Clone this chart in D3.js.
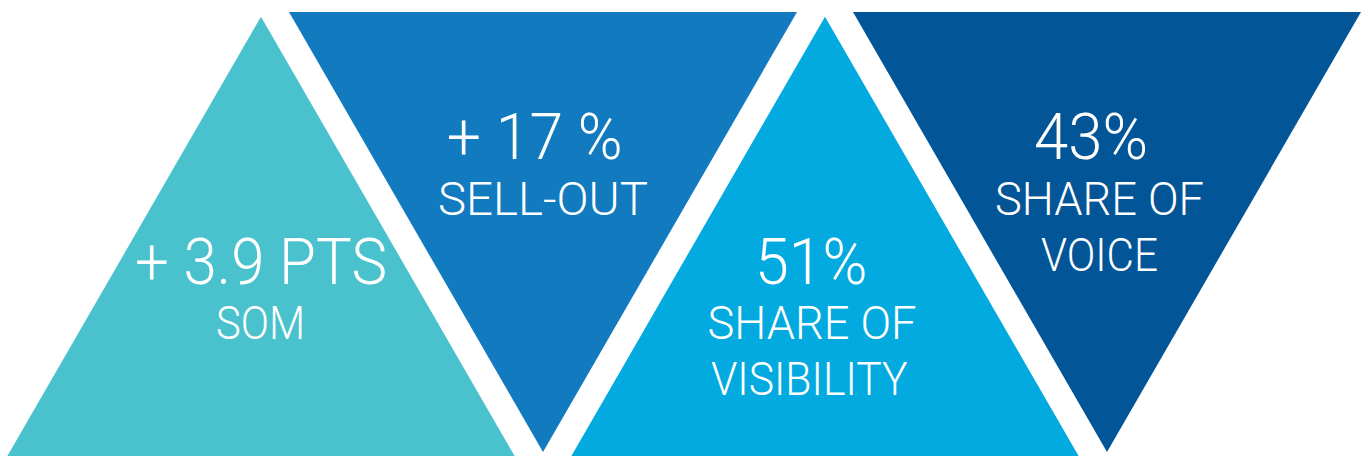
<!DOCTYPE html>
<html>
<head>
<meta charset="utf-8">
<script src="https://cdn.jsdelivr.net/npm/d3@7"></script>
<style>
  html, body { margin: 0; padding: 0; background: #fff; }
  svg { display: block; }
  text { font-family: Roboto, "DejaVu Sans", sans-serif; font-weight: 300; fill: #fff; }
</style>
</head>
<body>
<svg id="chart" width="1363" height="456"></svg>
<script>
// ---- data ----
const categories = ["SOM", "SELL-OUT", "SHARE OF VISIBILITY", "SHARE OF VOICE"];
const values = ["+ 3.9 PTS", "+ 17 %", "51%", "43%"];
const subLabels = [["SOM"], ["SELL-OUT"], ["SHARE OF", "VISIBILITY"], ["SHARE OF", "VOICE"]];
const directions = ["up", "down", "up", "down"];
const colors = ["#4AC2CE", "#127ABF", "#02AAE0", "#025597"];

// ---- layout / style ----
const W = 1363, H = 456;
const side = 508;
const triH = side * Math.sqrt(3) / 2;
const valueDx = [0, -8.3, -13.7, -16];
const subDx = [[-0.5], [0], [-13, -15.7], [-7.5, -7.5]];
const valueWidths = [252, 176, 112.7, 114];
const subWidths = [[89], [210], [209, 196.7], [209, 117]];

const svg = d3.select("#chart");
const x = d3.scalePoint().domain(categories).range([261, 1107]);
const y = d3.scaleLinear().domain([0, 1]).range([0, triH]); // fraction of triangle height

const topUp = 16.7, topDown = 12;

function triPath(cat, dir) {
  const cx = x(cat);
  const p = d3.path();
  if (dir === "up") {
    const y0 = topUp;
    p.moveTo(cx, y0);
    p.lineTo(cx + side / 2, y0 + y(1));
    p.lineTo(cx - side / 2, y0 + y(1));
  } else {
    const y0 = topDown;
    p.moveTo(cx - side / 2, y0);
    p.lineTo(cx + side / 2, y0);
    p.lineTo(cx, y0 + y(1));
  }
  p.closePath();
  return p.toString();
}

const g = svg.selectAll("g.tri")
  .data(categories.map((c, i) => ({ c, i })))
  .join("g").attr("class", "tri");

g.append("path")
  .attr("d", d => triPath(d.c, directions[d.i]))
  .attr("fill", d => colors[d.i]);

const valueBaseline = { up: 284, down: 159 };
const subBaseline = { up: 338.5, down: 214.5 };
const lineGap = 56.5;
const bigSize = 65.5, smallSize = 47;

g.append("text")
  .attr("x", d => x(d.c) + valueDx[d.i])
  .attr("y", d => valueBaseline[directions[d.i]])
  .attr("text-anchor", "middle")
  .attr("textLength", d => valueWidths[d.i])
  .attr("lengthAdjust", "spacingAndGlyphs")
  .style("font-size", bigSize + "px")
  .text(d => values[d.i]);

g.each(function(d) {
  d3.select(this).selectAll("text.sub")
    .data(subLabels[d.i])
    .join("text").attr("class", "sub")
    .attr("x", (s, k) => x(d.c) + subDx[d.i][k])
    .attr("y", (s, k) => subBaseline[directions[d.i]] + k * lineGap)
    .attr("text-anchor", "middle")
    .attr("textLength", (s, k) => subWidths[d.i][k])
    .attr("lengthAdjust", "spacingAndGlyphs")
    .style("font-size", smallSize + "px")
    .text(s => s);
});
</script>
</body>
</html>
